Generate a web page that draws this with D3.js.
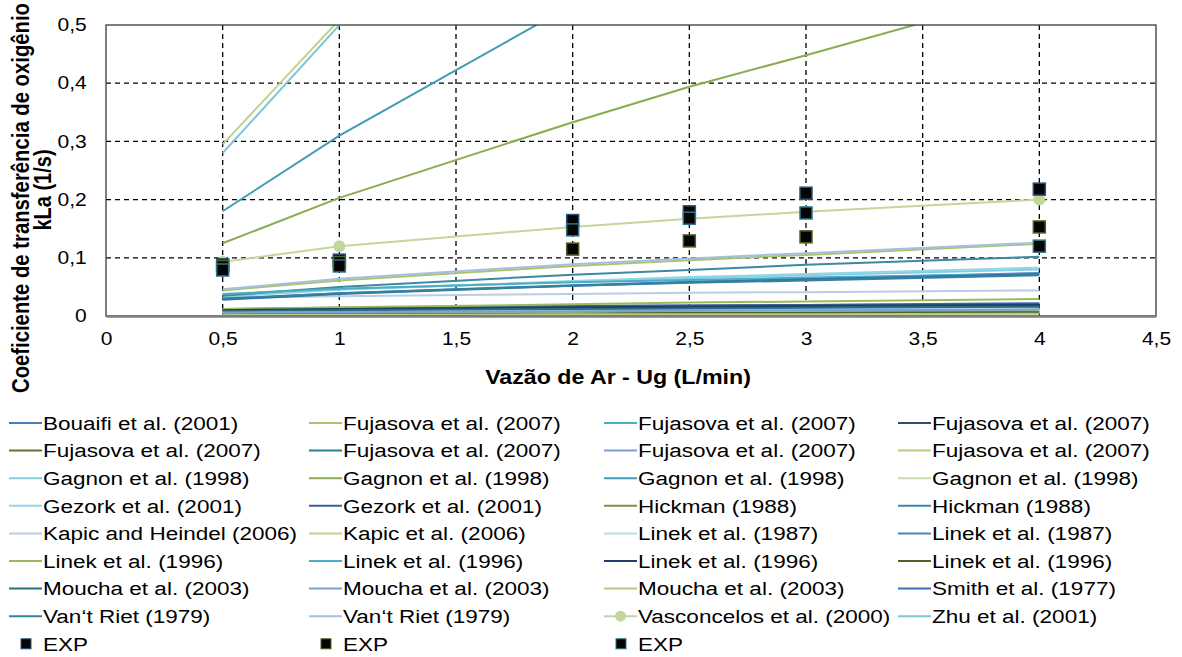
<!DOCTYPE html>
<html><head><meta charset="utf-8">
<script src="https://cdn.jsdelivr.net/npm/d3@7"></script>
<style>
body{margin:0;background:#fff}
svg{display:block}
text{font-family:"Liberation Sans",Arial,sans-serif;fill:#000}
</style>
</head><body>
<svg id="c" width="1182" height="657"></svg>
<script>
// ---------- DATA ----------
const xValues = [0.5, 1, 2, 2.5, 3, 4];
const xTicks = [0, 0.5, 1, 1.5, 2, 2.5, 3, 3.5, 4, 4.5];
const yTicks = [0, 0.1, 0.2, 0.3, 0.4, 0.5];
const xTitle = "Vazão de Ar - Ug (L/min)";
const yTitle = ["Coeficiente de transferência de oxigênio", "kLa (1/s)"];

const seriesNames = [
  "Bouaifi et al. (2001)", "Fujasova et al. (2007)", "Fujasova et al. (2007)", "Fujasova et al. (2007)",
  "Fujasova et al. (2007)", "Fujasova et al. (2007)", "Fujasova et al. (2007)", "Fujasova et al. (2007)",
  "Gagnon et al. (1998)", "Gagnon et al. (1998)", "Gagnon et al. (1998)", "Gagnon et al. (1998)",
  "Gezork et al. (2001)", "Gezork et al. (2001)", "Hickman (1988)", "Hickman (1988)",
  "Kapic and Heindel (2006)", "Kapic et al. (2006)", "Linek et al. (1987)", "Linek et al. (1987)",
  "Linek et al. (1996)", "Linek et al. (1996)", "Linek et al. (1996)", "Linek et al. (1996)",
  "Moucha et al. (2003)", "Moucha et al. (2003)", "Moucha et al. (2003)", "Smith et al. (1977)",
  "Van‘t Riet (1979)", "Van‘t Riet (1979)", "Vasconcelos et al. (2000)", "Zhu et al. (2001)"
];
const seriesValues = [
  [0.010, 0.013, 0.017, 0.018, 0.019, 0.022],
  [0.044, 0.061, 0.086, 0.096, 0.105, 0.124],
  [0.008, 0.010, 0.013, 0.015, 0.016, 0.018],
  [0.011, 0.013, 0.016, 0.017, 0.018, 0.020],
  [0.003, 0.004, 0.005, 0.006, 0.007, 0.008],
  [0.009, 0.011, 0.013, 0.014, 0.015, 0.017],
  [0.007, 0.008, 0.010, 0.011, 0.012, 0.014],
  [0.004, 0.005, 0.007, 0.008, 0.009, 0.010],
  [0.036, 0.046, 0.059, 0.065, 0.070, 0.080],
  [0.125, 0.203, 0.333, 0.394, 0.448, 0.560],
  [0.180, 0.310, 0.535, 0.640, 0.735, 0.920],
  [0.002, 0.003, 0.003, 0.004, 0.004, 0.005],
  [0.033, 0.045, 0.060, 0.067, 0.072, 0.083],
  [0.012, 0.014, 0.017, 0.018, 0.019, 0.021],
  [0.005, 0.007, 0.009, 0.010, 0.011, 0.012],
  [0.035, 0.050, 0.071, 0.079, 0.088, 0.102],
  [0.031, 0.034, 0.038, 0.040, 0.041, 0.044],
  [0.295, 0.509, 0.874, 1.040, 1.200, 1.500],
  [0.006, 0.008, 0.010, 0.011, 0.012, 0.013],
  [0.029, 0.039, 0.053, 0.059, 0.064, 0.074],
  [0.012, 0.015, 0.020, 0.023, 0.025, 0.029],
  [0.038, 0.047, 0.058, 0.062, 0.066, 0.073],
  [0.010, 0.012, 0.015, 0.016, 0.017, 0.019],
  [0.003, 0.003, 0.004, 0.005, 0.005, 0.006],
  [0.008, 0.010, 0.012, 0.013, 0.014, 0.016],
  [0.006, 0.007, 0.008, 0.009, 0.010, 0.011],
  [0.002, 0.002, 0.003, 0.003, 0.003, 0.004],
  [0.028, 0.038, 0.052, 0.058, 0.063, 0.072],
  [0.030, 0.039, 0.052, 0.057, 0.061, 0.070],
  [0.046, 0.064, 0.089, 0.099, 0.108, 0.126],
  [0.093, 0.120, 0.153, 0.167, 0.179, 0.200],
  [0.280, 0.500, 0.893, 1.080, 1.260, 1.590]
];
const markerSeries = [30]; // Vasconcelos has circle markers

const expNames = ["EXP", "EXP", "EXP"];
const expValues = [
  [0.088, 0.096, 0.164, 0.179, 0.211, 0.218],
  [0.085, 0.092, 0.115, 0.129, 0.136, 0.153],
  [0.079, 0.086, 0.148, 0.168, 0.177, 0.120]
];

// ---------- STYLE ----------
const seriesColors = [
  "#4a7ebb", "#a9c46c", "#4bacc6", "#2c4d75",
  "#5f7530", "#2e7d93", "#7a9fd4", "#b5cf7f",
  "#7fcfe3", "#8aac4f", "#3f9cb8", "#c6dcaa",
  "#93d4e6", "#3c5f93", "#77933c", "#3a8aa3",
  "#b9cde5", "#bcd38e", "#b7dee8", "#4f81bd",
  "#9bbb59", "#4bacc6", "#1f3f6e", "#4f6228",
  "#2a6f80", "#7b9fd6", "#b3cc82", "#3d6eb0",
  "#31849b", "#a7bfde", "#c3d69b", "#7fc6dc"
];
const expStroke = ["#2a5478", "#4f6228", "#2a7488"];

const M = {left: 106, right: 1156, top: 25, bottom: 316};
const svg = d3.select("#c");

const x = d3.scaleLinear().domain([0, 4.5]).range([M.left, M.right]);
const y = d3.scaleLinear().domain([0, 0.5]).range([M.bottom, M.top]);
const loc = d3.formatLocale({decimal: ",", thousands: ".", grouping: [3], currency: ["", ""]});
const fmt = loc.format(".1~f");

// gridlines
const grid = svg.append("g");
grid.selectAll("line.gy").data(yTicks.filter(d => d > 0 && d < 0.5)).enter().append("line")
  .attr("x1", M.left).attr("x2", M.right).attr("y1", d => y(d)).attr("y2", d => y(d))
  .attr("stroke", "#000").attr("stroke-width", 1.3).attr("stroke-dasharray", "5,4");
grid.selectAll("line.gx").data(xTicks.filter(d => d > 0 && d < 4.5)).enter().append("line")
  .attr("x1", d => x(d)).attr("x2", d => x(d)).attr("y1", M.top).attr("y2", M.bottom)
  .attr("stroke", "#000").attr("stroke-width", 1.3).attr("stroke-dasharray", "5,4");

// clip
svg.append("clipPath").attr("id", "clip").append("rect")
  .attr("x", M.left).attr("y", M.top).attr("width", M.right - M.left).attr("height", M.bottom - M.top);

const line = d3.line().x((d, i) => x(xValues[i])).y(d => y(d));
const plot = svg.append("g").attr("clip-path", "url(#clip)");
seriesValues.forEach((vals, si) => {
  plot.append("path").datum(vals).attr("d", line)
    .attr("fill", "none").attr("stroke", seriesColors[si]).attr("stroke-width", 2);
  if (markerSeries.includes(si)) {
    plot.selectAll(null).data(vals).enter().append("circle")
      .attr("cx", (d, i) => x(xValues[i])).attr("cy", d => y(d)).attr("r", 6)
      .attr("fill", seriesColors[si]);
  }
});
expValues.forEach((vals, ei) => {
  svg.selectAll(null).data(vals).enter().append("rect")
    .attr("x", (d, i) => x(xValues[i]) - 6).attr("y", d => y(d) - 6)
    .attr("width", 12).attr("height", 12)
    .attr("fill", "#050505").attr("stroke", expStroke[ei]).attr("stroke-width", 1.5);
});

// frame
svg.append("rect").attr("x", M.left).attr("y", M.top).attr("width", M.right - M.left).attr("height", M.bottom - M.top)
  .attr("fill", "none").attr("stroke", "#3a3a3a").attr("stroke-width", 1.3);

// axes
const sx = 1.2;
const yAxis = svg.append("g").attr("transform", `translate(${M.left},0)`)
  .call(d3.axisLeft(y).tickValues(yTicks).tickFormat(fmt).tickSize(0).tickPadding(16));
yAxis.select(".domain").remove();
yAxis.selectAll("text").attr("font-size", 17.5).attr("fill", "#000")
  .style("font-family", '"Liberation Sans",Arial,sans-serif').attr("transform", `scale(${sx},1)`);

const xAxis = svg.append("g").attr("transform", `translate(0,${M.bottom})`)
  .call(d3.axisBottom(x).tickValues(xTicks).tickFormat(fmt).tickSize(0).tickPadding(17));
xAxis.select(".domain").attr("stroke", "#7f7f7f").attr("stroke-width", 2.5);
xAxis.selectAll("text").attr("font-size", 17.5).attr("fill", "#000")
  .style("font-family", '"Liberation Sans",Arial,sans-serif').attr("transform", `scale(${sx},1)`);

// titles
svg.append("g").attr("transform", `translate(618,384) scale(1.16,1)`)
  .append("text").attr("text-anchor", "middle").attr("font-size", 20).attr("font-weight", "bold").text(xTitle);
svg.append("g").attr("transform", `translate(29,198) scale(1.15,1) rotate(-90)`)
  .append("text").attr("text-anchor", "middle").attr("font-size", 20.3).attr("font-weight", "bold").text(yTitle[0]);
svg.append("g").attr("transform", `translate(51,190) scale(1.15,1) rotate(-90)`)
  .append("text").attr("text-anchor", "middle").attr("font-size", 20).attr("font-weight", "bold").text(yTitle[1]);

// legend
const colText = [43, 343, 638, 932];
const rowY0 = 423, rowH = 27.6;
const legendItems = seriesNames.map((n, i) => ({name: n, type: "line", idx: i}))
  .concat(expNames.map((n, i) => ({name: n, type: "exp", idx: i})));
const leg = svg.append("g");
legendItems.forEach((it, k) => {
  const r = Math.floor(k / 4), c = k % 4;
  const tx = colText[c], cy = rowY0 + r * rowH;
  if (it.type === "line") {
    leg.append("line").attr("x1", tx - 34).attr("x2", tx - 1).attr("y1", cy).attr("y2", cy)
      .attr("stroke", seriesColors[it.idx]).attr("stroke-width", 2);
    if (markerSeries.includes(it.idx)) {
      leg.append("circle").attr("cx", tx - 17.5).attr("cy", cy).attr("r", 5.5).attr("fill", seriesColors[it.idx]);
    }
  } else {
    leg.append("rect").attr("x", tx - 22).attr("y", cy - 5).attr("width", 10).attr("height", 10)
      .attr("fill", "#050505").attr("stroke", expStroke[it.idx]).attr("stroke-width", 1);
  }
  leg.append("g").attr("transform", `translate(${tx},${cy}) scale(1.185,1)`)
    .append("text").attr("x", 0).attr("y", 0).attr("dy", "0.36em").attr("font-size", 19).text(it.name);
});
</script>
</body></html>
